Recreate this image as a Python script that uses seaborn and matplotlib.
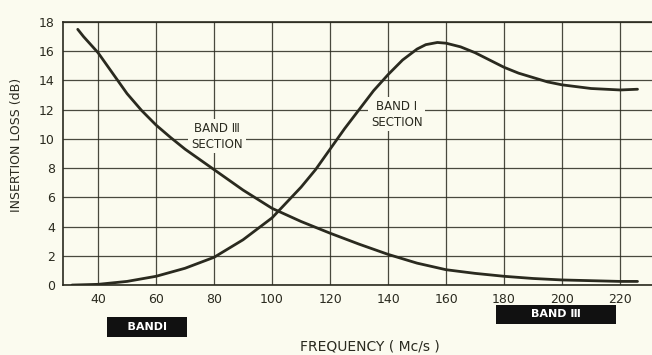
import numpy as np
import pandas as pd
import matplotlib.pyplot as plt
import seaborn as sns

# values (frequency in Mc/s, loss in dB)
band3_freq = [33, 35, 40, 45, 50, 55, 60, 65, 70, 75, 80, 90, 100, 110, 120, 130, 140, 150, 160, 170, 180, 190, 200, 210, 220, 226]
band3_loss = [17.5, 17.0, 15.9, 14.5, 13.1, 11.95, 10.95, 10.1, 9.3, 8.6, 7.9, 6.5, 5.25, 4.35, 3.55, 2.8, 2.1, 1.5, 1.05, 0.8, 0.6, 0.45, 0.35, 0.3, 0.25, 0.25]

band1_freq = [31, 40, 50, 60, 70, 80, 90, 100, 110, 115, 120, 125, 130, 135, 140, 145, 150, 153, 157, 160, 165, 170, 175, 180, 185, 190, 195, 200, 210, 220, 226]
band1_loss = [0.0, 0.05, 0.25, 0.6, 1.15, 1.9, 3.1, 4.6, 6.7, 7.9, 9.3, 10.7, 12.0, 13.3, 14.4, 15.4, 16.15, 16.45, 16.6, 16.55, 16.3, 15.9, 15.4, 14.9, 14.5, 14.2, 13.9, 13.7, 13.45, 13.35, 13.4]

x_ticks = [40, 60, 80, 100, 120, 140, 160, 180, 200, 220]
y_ticks = [0, 2, 4, 6, 8, 10, 12, 14, 16, 18]

paper = '#fbfbef'
ink = '#2a2a1f'

sns.set_style('white')
plt.rcParams['font.family'] = ['DejaVu Sans']

fig = plt.figure(figsize=(6.52, 3.55), dpi=100, facecolor=paper)
ax = fig.add_axes([0.097, 0.197, 0.903, 0.741])
ax.set_facecolor(paper)

df3 = pd.DataFrame({'freq': band3_freq, 'loss': band3_loss})
df1 = pd.DataFrame({'freq': band1_freq, 'loss': band1_loss})
sns.lineplot(data=df3, x='freq', y='loss', ax=ax, color=ink, lw=2.0, zorder=5)
sns.lineplot(data=df1, x='freq', y='loss', ax=ax, color=ink, lw=2.0, zorder=5)

ax.set_xlim(28, 231)
ax.set_ylim(0, 18)
ax.set_xticks(x_ticks)
ax.set_yticks(y_ticks)
ax.grid(True, color=ink, lw=0.9, alpha=0.85)
ax.tick_params(length=0, labelsize=9, colors=ink, pad=6)
ax.set_xlabel('')
ax.set_ylabel('')
for side in ['left', 'top', 'bottom']:
    ax.spines[side].set_visible(True)
    ax.spines[side].set_color(ink)
    ax.spines[side].set_linewidth(1.2)
ax.spines['right'].set_visible(False)

# curve labels, with paper behind them breaking the grid
ax.text(81, 10.2, 'BAND Ⅲ\nSECTION', ha='center', va='center', fontsize=8.5,
        color=ink, linespacing=1.3, zorder=4,
        bbox=dict(facecolor=paper, edgecolor='none', pad=2))
ax.text(143, 11.7, 'BAND I\nSECTION', ha='center', va='center', fontsize=8.5,
        color=ink, linespacing=1.3, zorder=4,
        bbox=dict(facecolor=paper, edgecolor='none', pad=2))

# band markers under the axis
ax.text(57, -2.85, '    BANDI    ', ha='center', va='center', fontsize=8,
        fontweight='bold', color='white', clip_on=False,
        bbox=dict(facecolor='#111111', edgecolor='none', pad=3.5))
ax.text(198, -2.0, '        BAND Ⅲ        ', ha='center', va='center', fontsize=8,
        fontweight='bold', color='white', clip_on=False,
        bbox=dict(facecolor='#111111', edgecolor='none', pad=3))

fig.text(370 / 652, 1 - 347 / 355, 'FREQUENCY ( Mc/s )', ha='center', va='center',
         fontsize=10, color=ink)
fig.text(17 / 652, 1 - 145 / 355, 'INSERTION LOSS (dB)', ha='center', va='center',
         rotation=90, fontsize=9, color=ink)

fig.savefig('out.png', dpi=100, facecolor=paper)
